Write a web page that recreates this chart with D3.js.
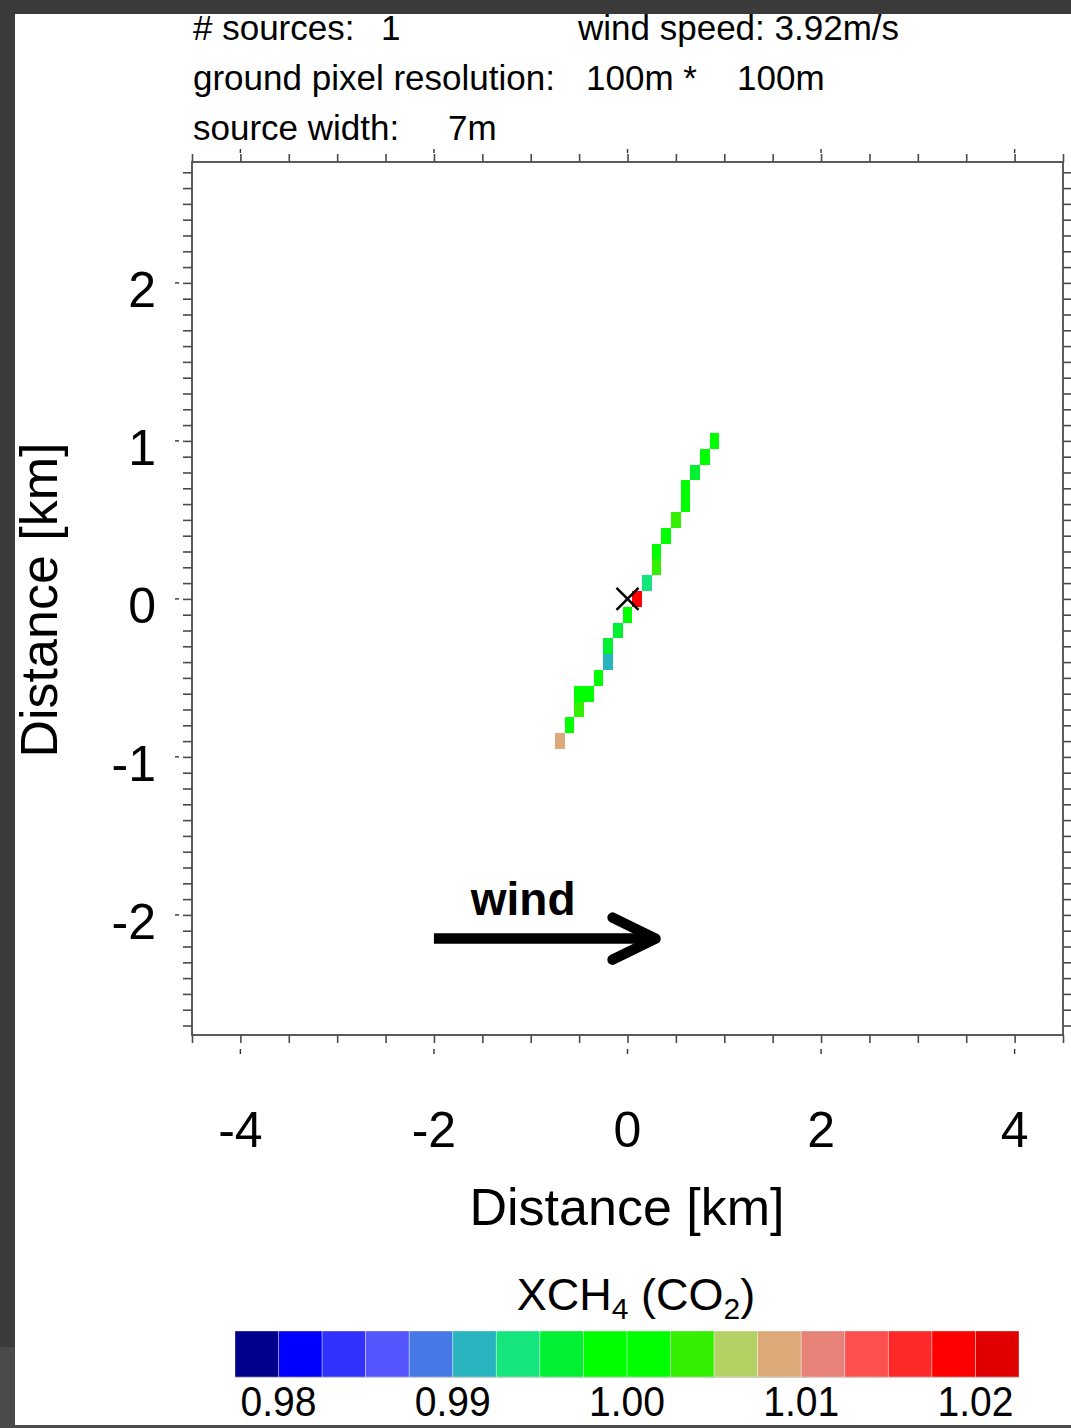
<!DOCTYPE html>
<html>
<head>
<meta charset="utf-8">
<script src="https://cdn.jsdelivr.net/npm/d3@7"></script>
<style>
  html, body { margin: 0; padding: 0; background: #ffffff; }
  svg { display: block; }
  text { font-family: "Liberation Sans", Arial, Helvetica, sans-serif; fill: #000; }
</style>
</head>
<body>
<svg id="chart" width="1071" height="1428"></svg>
<script>
// ---------------- data ----------------
const plumeX = [0.9, 0.8, 0.7, 0.6, 0.6, 0.5, 0.4, 0.3, 0.3, 0.2, 0.1, 0.0, -0.1, -0.2, -0.2, -0.3, -0.4, -0.5, -0.5, -0.6, -0.7];
const plumeY = [1.0, 0.9, 0.8, 0.7, 0.6, 0.5, 0.4, 0.3, 0.2, 0.1, 0.0, -0.1, -0.2, -0.3, -0.4, -0.5, -0.6, -0.6, -0.7, -0.8, -0.9];
const plumeValue = [1.000, 1.000, 0.9965, 1.000, 1.000, 1.0035, 1.000, 1.000, 1.0035, 0.994, 1.019, 1.000, 0.9965, 0.9965, 0.991, 1.000, 1.000, 1.000, 1.0035, 1.000, 1.0085];
const pixelSizeKm = 0.1;
const sourceX = [0];
const sourceY = [0];
const xTickValues = [-4, -2, 0, 2, 4];
const yTickValues = [-2, -1, 0, 1, 2];
const colorbarColors = ["#00008c", "#0000ff", "#3232ff", "#5555ff", "#4678e6", "#28b4be", "#14e67d", "#00f032", "#00ff00",
                        "#00ff00", "#32f000", "#b4d264", "#dcaa78", "#e68278", "#ff5050", "#ff2828", "#ff0000", "#e10000"];
const colorbarDomain = [0.9775, 1.0225];
const colorbarTicks = [0.98, 0.99, 1.00, 1.01, 1.02];
const infoLines = [
  [{ t: "# sources:", x: 193 }, { t: "1", x: 381 }, { t: "wind speed: 3.92m/s", x: 578 }],
  [{ t: "ground pixel resolution:", x: 193 }, { t: "100m *", x: 586 }, { t: "100m", x: 737 }],
  [{ t: "source width:", x: 193 }, { t: "7m", x: 448 }]
];
const windArrowX = [-2.0, 0.29];
const windArrowY = -2.15;
const windLabel = "wind";

// ---------------- layout ----------------
const svg = d3.select("#chart");
const W = 1071, H = 1428;
const plot = { left: 192, right: 1063, top: 162, bottom: 1035 };

// window frame (screenshot border)
svg.append("rect").attr("x", 0).attr("y", 0).attr("width", W).attr("height", H).attr("fill", "#3b3b3b");
svg.append("rect").attr("x", 0).attr("y", 1347).attr("width", 15).attr("height", 81).attr("fill", "#4a4a4a");
svg.append("rect").attr("x", 0).attr("y", 1425).attr("width", W).attr("height", 3).attr("fill", "#4a4a4a");
svg.append("rect").attr("x", 15).attr("y", 14).attr("width", W - 15).attr("height", 1411).attr("fill", "#ffffff");

const x = d3.scaleLinear().domain([-4.5, 4.5]).range([plot.left, plot.right]);
const y = d3.scaleLinear().domain([-2.76, 2.765]).range([plot.bottom, plot.top]);
const color = d3.scaleQuantize().domain(colorbarDomain).range(colorbarColors);

// header text
infoLines.forEach((line, i) => {
  line.forEach(item => {
    svg.append("text").attr("x", item.x).attr("y", 40 + i * 50)
      .attr("font-size", 35).text(item.t);
  });
});

// plume pixels
const cells = plumeX.map((d, i) => ({ x: d, y: plumeY[i], v: plumeValue[i] }));
svg.append("g").selectAll("rect").data(cells).join("rect")
  .attr("x", d => x(d.x - pixelSizeKm / 2))
  .attr("y", d => y(d.y + pixelSizeKm / 2))
  .attr("width", d => x(d.x + pixelSizeKm / 2) - x(d.x - pixelSizeKm / 2))
  .attr("height", d => y(d.y - pixelSizeKm / 2) - y(d.y + pixelSizeKm / 2))
  .attr("fill", d => color(d.v))
  .attr("shape-rendering", "crispEdges");

// source marker
sourceX.forEach((sx, i) => {
  const cx = x(sx), cy = y(sourceY[i]), r = 11;
  svg.append("path")
    .attr("d", `M${cx - r},${cy - r}L${cx + r},${cy + r}M${cx - r},${cy + r}L${cx + r},${cy - r}`)
    .attr("stroke", "#000").attr("stroke-width", 2.5).attr("fill", "none");
});

// wind arrow
const ax0 = x(windArrowX[0]), ax1 = x(windArrowX[1]), ay = y(windArrowY);
svg.append("line").attr("x1", ax0).attr("x2", ax1 - 4).attr("y1", ay).attr("y2", ay)
  .attr("stroke", "#000").attr("stroke-width", 10.5);
svg.append("path")
  .attr("d", `M${ax1 - 43},${ay - 21}L${ax1},${ay}L${ax1 - 43},${ay + 21}`)
  .attr("stroke", "#000").attr("stroke-width", 10.5).attr("fill", "none")
  .attr("stroke-linecap", "round").attr("stroke-linejoin", "round");
svg.append("text").attr("x", x(-1.62)).attr("y", y(-2.0))
  .attr("font-size", 46).attr("font-weight", "bold").text(windLabel);

// axes frame
const axisColor = "#4a4a4a";
svg.append("rect").attr("x", plot.left).attr("y", plot.top)
  .attr("width", plot.right - plot.left).attr("height", plot.bottom - plot.top)
  .attr("fill", "none").attr("stroke", axisColor).attr("stroke-width", 1.8);

// minor ticks via d3 axes
const xMinor = d3.range(-4.5, 4.5001, 0.5);
const yMinor = d3.range(-27, 28).map(d => d / 10);

function styleAxis(g) {
  g.select(".domain").remove();
  g.selectAll(".tick line").attr("stroke", axisColor).attr("stroke-width", 1.6);
  g.selectAll(".tick text").remove();
}
svg.append("g").attr("transform", `translate(0,${plot.bottom})`)
  .call(d3.axisBottom(x).tickValues(xMinor).tickSize(8).tickFormat("")).call(styleAxis);
svg.append("g").attr("transform", `translate(0,${plot.top})`)
  .call(d3.axisTop(x).tickValues(xMinor).tickSize(8).tickFormat("")).call(styleAxis);
svg.append("g").attr("transform", `translate(${plot.left},0)`)
  .call(d3.axisLeft(y).tickValues(yMinor).tickSize(9).tickFormat("")).call(styleAxis);
svg.append("g").attr("transform", `translate(${plot.right},0)`)
  .call(d3.axisRight(y).tickValues(yMinor).tickSize(9).tickFormat("")).call(styleAxis);

// major tick dashes (outer)
const majors = svg.append("g").attr("stroke", "#333").attr("stroke-width", 1.4);
xTickValues.forEach(v => {
  majors.append("line").attr("x1", x(v)).attr("x2", x(v)).attr("y1", plot.top - 13).attr("y2", plot.top - 9);
  majors.append("line").attr("x1", x(v)).attr("x2", x(v)).attr("y1", plot.bottom + 14).attr("y2", plot.bottom + 19);
});
yTickValues.forEach(v => {
  majors.append("line").attr("x1", plot.left - 17).attr("x2", plot.left - 13).attr("y1", y(v)).attr("y2", y(v));
});

// tick labels
svg.append("g").selectAll("text").data(xTickValues).join("text")
  .attr("x", d => x(d)).attr("y", 1147).attr("text-anchor", "middle")
  .attr("font-size", 50).text(d => d3.format("d")(d).replace("−", "-"));
svg.append("g").selectAll("text").data(yTickValues).join("text")
  .attr("x", 156).attr("y", d => y(d) + 24).attr("text-anchor", "end")
  .attr("font-size", 50).text(d => d3.format("d")(d).replace("−", "-"));

// axis titles
svg.append("text").attr("x", 627).attr("y", 1225).attr("text-anchor", "middle")
  .attr("font-size", 52).text("Distance [km]");
svg.append("text").attr("transform", "translate(57,600) rotate(-90)").attr("text-anchor", "middle")
  .attr("font-size", 52).text("Distance [km]");

// colorbar
const cb = { left: 235, right: 1019, top: 1331, bottom: 1377 };
const cbx = d3.scaleLinear().domain(colorbarDomain).range([cb.left, cb.right]);
const step = (colorbarDomain[1] - colorbarDomain[0]) / colorbarColors.length;
svg.append("g").selectAll("rect").data(colorbarColors).join("rect")
  .attr("x", (d, i) => cbx(colorbarDomain[0] + i * step))
  .attr("y", cb.top)
  .attr("width", (d, i) => cbx(colorbarDomain[0] + (i + 1) * step) - cbx(colorbarDomain[0] + i * step))
  .attr("height", cb.bottom - cb.top)
  .attr("fill", d => d)
  .attr("stroke", "rgba(255,255,255,0.45)").attr("stroke-width", 0.8);
svg.append("line").attr("x1", cb.left).attr("x2", cb.right).attr("y1", cb.bottom + 0.5).attr("y2", cb.bottom + 0.5)
  .attr("stroke", "#cccccc").attr("stroke-width", 1);

svg.append("g").selectAll("text").data(colorbarTicks).join("text")
  .attr("x", d => cbx(d)).attr("y", 1416).attr("text-anchor", "middle")
  .attr("font-size", 42).attr("textLength", 76).attr("lengthAdjust", "spacingAndGlyphs")
  .text(d => d3.format(".2f")(d));

// colorbar title XCH4 (CO2)
const title = svg.append("text").attr("x", 636).attr("y", 1310).attr("text-anchor", "middle").attr("font-size", 45);
title.append("tspan").text("XCH");
title.append("tspan").attr("dy", 9).attr("font-size", 30).text("4");
title.append("tspan").attr("dy", -9).text(" (CO");
title.append("tspan").attr("dy", 9).attr("font-size", 30).text("2");
title.append("tspan").attr("dy", -9).text(")");
</script>
</body>
</html>
